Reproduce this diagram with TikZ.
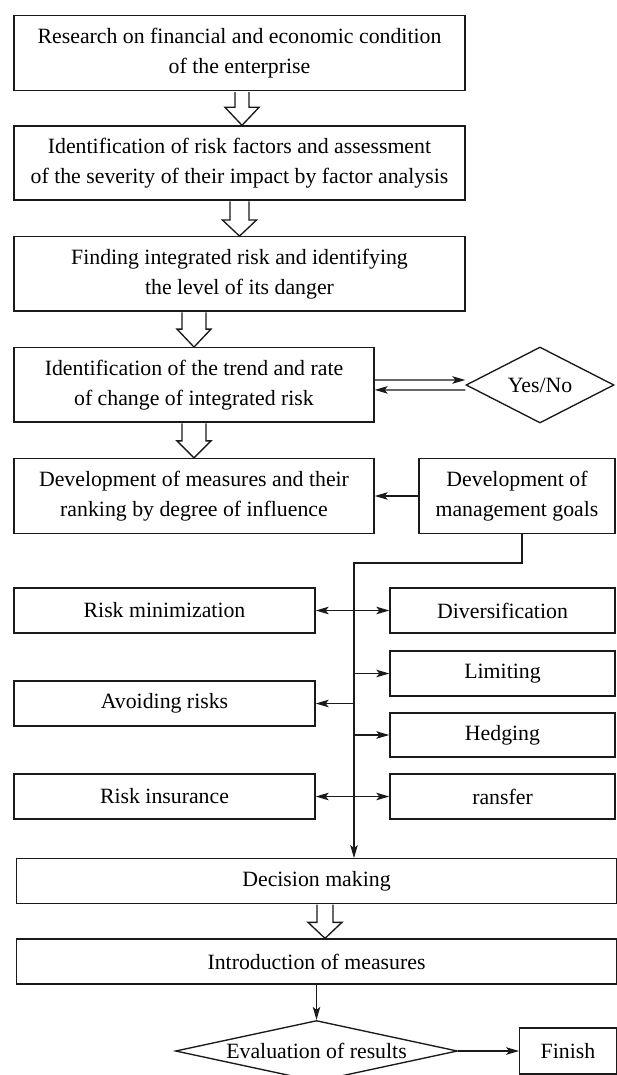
\documentclass[tikz,border=0pt]{standalone}
\usepackage{fontspec}
\setmainfont{Liberation Serif}
\usetikzlibrary{arrows.meta,calc,shapes.geometric}
\definecolor{ink}{HTML}{1A1A1A}
\newcommand{\hollowarrow}[4]{%
  \path[hollow] let \p1=(#3), \p2=(#4) in
   ({\x1-#1pt},{\y1-0.7pt}) -- ({\x1-#1pt},{\y2+#2pt}) -- ({\x1-17pt},{\y2+#2pt}) -- (\x1,\y2)
   -- ({\x1+17pt},{\y2+#2pt}) -- ({\x1+#1pt},{\y2+#2pt}) -- ({\x1+#1pt},{\y1-0.7pt});}
\begin{document}
\begin{tikzpicture}[x=1pt,y=-1pt,
  font=\fontsize{21.8}{30}\selectfont,
  box/.style={draw=ink, line width=1.35pt, inner sep=1pt, align=center},
  dia/.style={draw=ink, line width=1.35pt, shape=diamond, inner sep=0pt},
  hollow/.style={draw=ink, fill=white, line width=1.35pt, line join=miter},
  conn/.style={draw=ink, line width=1.3pt, -{Stealth[length=13pt,width=7.5pt,inset=3pt]}},
  both/.style={draw=ink, line width=1.3pt, {Stealth[length=13pt,width=7.5pt,inset=3pt]}-{Stealth[length=13pt,width=7.5pt,inset=3pt]}}]
\useasboundingbox (0,0) rectangle (617,1075);
\clip (0,0) rectangle (617,1075);
\fill[white] (0,0) rectangle (617,1075);

\node[box, minimum width=451pt, minimum height=75pt] (b1) at (239.5,53.2) {Research on financial and economic condition\\of the enterprise};
\node[box, minimum width=451pt, minimum height=74pt] (b2) at (239.5,163) {Identification of risk factors and assessment\\of the severity of their impact by factor analysis};
\node[box, minimum width=451pt, minimum height=74.3pt] (b3) at (239.5,273.9) {Finding integrated risk and identifying\\the level of its danger};
\node[box, minimum width=360pt, minimum height=74.3pt] (b4) at (194,384.9) {Identification of the trend and rate\\of change of integrated risk};
\node[dia, minimum width=148pt, minimum height=76pt, shape aspect=1.95] (yn) at (540,385) {Yes/No};
\node[box, minimum width=360pt, minimum height=75pt] (b5) at (194,496) {Development of measures and their\\ranking by degree of influence};
\node[box, minimum width=196pt, minimum height=75pt] (mg) at (517,496) {Development of\\management goals};

\node[box, minimum width=301pt, minimum height=45pt] (rm) at (164.5,610.5) {Risk minimization};
\node[box, minimum width=225pt, minimum height=45pt] (dv) at (502.5,610.5) {Diversification};
\node[box, minimum width=225pt, minimum height=45pt] (lim) at (502.5,673.5) {Limiting};
\node[box, minimum width=301pt, minimum height=45pt] (av) at (164.5,703.5) {Avoiding risks};
\node[box, minimum width=225pt, minimum height=44pt] (hd) at (502.5,735) {Hedging};
\node[box, minimum width=301pt, minimum height=45pt] (ins) at (164.5,796.5) {Risk insurance};
\node[box, minimum width=225pt, minimum height=45pt] (tr) at (502.5,796.5) {ransfer};

\node[box, minimum width=600pt, minimum height=44.5pt] (dm) at (316.5,881) {Decision making};
\node[box, minimum width=600pt, minimum height=45pt] (im) at (316.5,961.5) {Introduction of measures};
\node[dia, minimum width=282pt, minimum height=61pt, shape aspect=4.6] (ev) at (316.5,1051) {Evaluation of results};
\node[box, minimum width=96.5pt, minimum height=46pt] (fin) at (568,1051) {Finish};

\hollowarrow{7}{18}{[xshift=2.5pt]b1.south}{b2.north}
\hollowarrow{9.5}{16}{b2.south}{b3.north}
\hollowarrow{12}{18}{b4.north |- b3.south}{b4.north}
\hollowarrow{12}{17}{b4.south}{b5.north}
\hollowarrow{8}{16}{[xshift=8.5pt]dm.south}{im.north}

\draw[conn] ([yshift=5pt]b4.east) -- ([yshift=5pt]yn.west);
\draw[conn] ([yshift=-5pt]yn.west) -- ([yshift=-5pt]b4.east);
\draw[conn] (mg.west) -- (b5.east);

\coordinate (j1) at (522,563);
\coordinate (j2) at (354,563);
\draw[conn] ([xshift=5pt]mg.south) -- (j1) -- (j2) -- (dm.north -| j2);
\draw[both] (rm.east) -- (dv.west);
\draw[conn] (lim.west -| j2) -- (lim.west);
\draw[conn] (av.east -| j2) -- (av.east);
\draw[conn] (hd.west -| j2) -- (hd.west);
\draw[both] (ins.east) -- (tr.west);
\draw[conn] (im.south) -- (ev.north);
\draw[conn] (ev.east) -- (fin.west);
\end{tikzpicture}
\end{document}
